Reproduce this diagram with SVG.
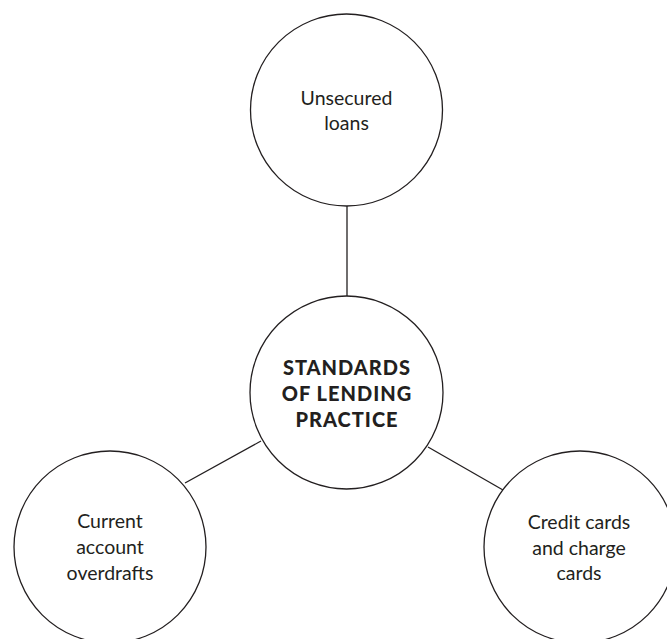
<svg xmlns="http://www.w3.org/2000/svg" width="667" height="639" viewBox="0 0 667 639">
<style>
.n{fill:#fff;stroke:#231f20;stroke-width:1.3}
.c{stroke:#231f20;stroke-width:1.3;fill:none}
.t{font-family:Lato,"Open Sans","Liberation Sans",sans-serif;font-size:19.5px;fill:#231f20;text-anchor:middle}
.b{font-weight:900;font-size:20px;letter-spacing:1px}
</style>
<rect width="667" height="639" fill="#fff"/>
<g id="connectors">
<line class="c" x1="347" y1="206" x2="347" y2="296"/>
<line class="c" x1="185" y1="483" x2="261" y2="441"/>
<line class="c" x1="428" y1="447" x2="503" y2="490"/>
</g>
<g id="unsecured">
<circle class="n" cx="346.5" cy="110" r="96"/>
<text class="t" x="346.5" y="105">Unsecured</text>
<text class="t" x="346.5" y="130">loans</text>
</g>
<g id="standards">
<circle class="n" cx="346.5" cy="392.5" r="96.5"/>
<text class="t b" x="347" y="375">STANDARDS</text>
<text class="t b" x="347" y="401">OF LENDING</text>
<text class="t b" x="347" y="427">PRACTICE</text>
</g>
<g id="overdrafts">
<circle class="n" cx="110" cy="547" r="96"/>
<text class="t" x="110" y="528">Current</text>
<text class="t" x="110" y="554">account</text>
<text class="t" x="110" y="580">overdrafts</text>
</g>
<g id="cards">
<circle class="n" cx="580" cy="547" r="96"/>
<text class="t" x="579" y="529">Credit cards</text>
<text class="t" x="579" y="555">and charge</text>
<text class="t" x="579" y="580">cards</text>
</g>
</svg>
